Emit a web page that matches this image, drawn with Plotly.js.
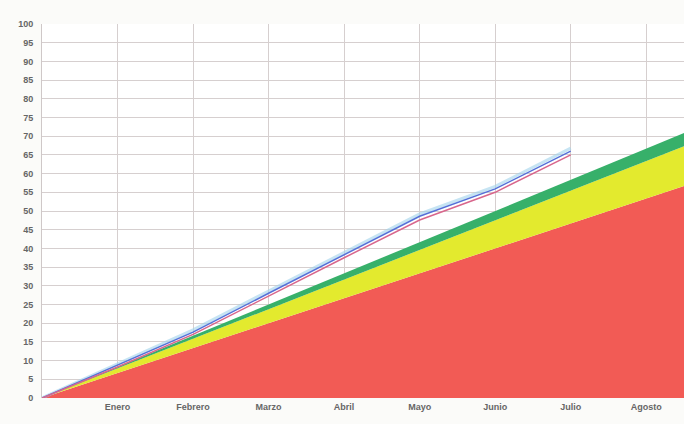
<!DOCTYPE html>
<html>
<head>
<meta charset="utf-8">
<script src="https://cdn.plot.ly/plotly-3.0.1.min.js"></script>
<style>
html,body{margin:0;padding:0;background:#fbfbf9;}
#chart{width:684px;height:424px;}
</style>
</head>
<body>
<div id="chart"></div>
<script>
// Categories (index 0 = start of year)
var monthIdx = [0, 1, 2, 3, 4, 5, 6, 7, 8, 9, 10, 11, 12];
var monthLabels = ['', 'Enero', 'Febrero', 'Marzo', 'Abril', 'Mayo', 'Junio', 'Julio', 'Agosto', 'Septiembre', 'Octubre', 'Noviembre', 'Diciembre'];

// Cumulative goal bands (%)
var redBand    = [0, 6.67, 13.33, 20, 26.67, 33.33, 40, 46.67, 53.33, 60, 66.67, 73.33, 80];
var yellowBand = [0, 7.92, 15.83, 23.75, 31.67, 39.58, 47.5, 55.42, 63.33, 71.25, 79.17, 87.08, 95];
var greenBand  = [0, 8.33, 16.67, 25, 33.33, 41.67, 50, 58.33, 66.67, 75, 83.33, 91.67, 100];

// Actual progress lines (Enero..Julio)
var actualIdx = [0, 1, 2, 3, 4, 5, 6, 7];
var actualBlue  = [0, 8.7, 17.6, 28.0, 38.4, 48.6, 55.9, 66.0];
var actualPink  = [0, 8.3, 17.0, 27.3, 37.5, 47.6, 55.0, 65.0];
var actualLight = [0, 9.2, 18.2, 28.6, 39.0, 49.2, 56.6, 66.8];

var yTicks = [0,5,10,15,20,25,30,35,40,45,50,55,60,65,70,75,80,85,90,95,100];

var traces = [
  {x: monthIdx, y: redBand, type: 'scatter', mode: 'lines', fill: 'tozeroy',
   fillcolor: '#f25b55', line: {width: 0, color: '#f25b55'}, hoverinfo: 'skip'},
  {x: monthIdx, y: yellowBand, type: 'scatter', mode: 'lines', fill: 'tonexty',
   fillcolor: '#e3ea2e', line: {width: 0, color: '#e3ea2e'}, hoverinfo: 'skip'},
  {x: monthIdx, y: greenBand, type: 'scatter', mode: 'lines', fill: 'tonexty',
   fillcolor: '#37b06a', line: {width: 0, color: '#37b06a'}, hoverinfo: 'skip'},
  {x: actualIdx, y: actualLight, type: 'scatter', mode: 'lines',
   line: {width: 3, color: 'rgba(160,210,235,0.6)'}},
  {x: actualIdx, y: actualBlue, type: 'scatter', mode: 'lines',
   line: {width: 1.5, color: '#5470d8'}},
  {x: actualIdx, y: actualPink, type: 'scatter', mode: 'lines',
   line: {width: 1.5, color: '#d8668c'}}
];

var layout = {
  width: 684, height: 424,
  margin: {l: 42, r: 0, t: 24, b: 26, pad: 0},
  paper_bgcolor: '#fbfbf9',
  plot_bgcolor: '#ffffff',
  showlegend: false,
  xaxis: {
    range: [0, 8.5],
    tickmode: 'array',
    tickvals: monthIdx,
    ticktext: monthLabels,
    showgrid: true, gridcolor: '#d6cfcf', gridwidth: 1,
    zeroline: false, showline: false,
    ticks: '', ticklabelstandoff: 2,
    tickfont: {family: 'Liberation Sans, Arial, sans-serif', size: 9, color: '#666666', weight: 'bold'}
  },
  yaxis: {
    range: [0, 100],
    tickmode: 'array',
    tickvals: yTicks,
    ticktext: yTicks.map(String),
    showgrid: true, gridcolor: '#d6cfcf', gridwidth: 1,
    zeroline: false, showline: true, linecolor: '#cfc8c8',
    ticks: '', ticklabelstandoff: 6,
    tickfont: {family: 'Liberation Sans, Arial, sans-serif', size: 9, color: '#666666', weight: 'bold'}
  }
};

Plotly.newPlot('chart', traces, layout, {displayModeBar: false, staticPlot: true});
</script>
</body>
</html>
